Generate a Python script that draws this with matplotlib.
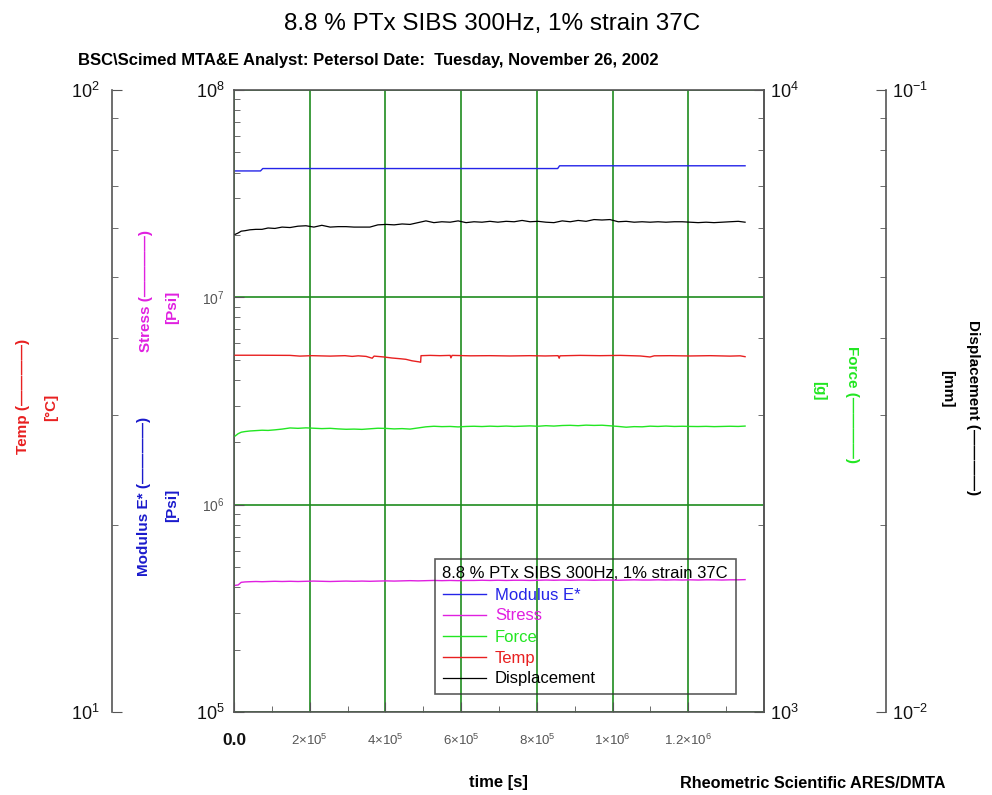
import matplotlib
matplotlib.use('Agg')
import matplotlib.pyplot as plt
from matplotlib.ticker import MultipleLocator, NullFormatter

plt.rcParams['font.family'] = ['Liberation Sans', 'DejaVu Sans']
plt.rcParams['mathtext.fontset'] = 'custom'
plt.rcParams['mathtext.rm'] = 'Liberation Sans'
plt.rcParams['mathtext.it'] = 'Liberation Sans:italic'
plt.rcParams['mathtext.bf'] = 'Liberation Sans:bold'

# time samples, in units of 1e5 s
t_grid = [0.03, 0.11, 0.19, 0.29, 0.42, 0.58, 0.74, 0.90, 1.08, 1.27,
          1.48, 1.69, 1.90, 2.11, 2.32, 2.54, 2.75, 2.96, 3.17, 3.38,
          3.59, 3.80, 4.02, 4.23, 4.44, 4.65, 4.86, 5.07, 5.28, 5.49,
          5.71, 5.92, 6.13, 6.34, 6.55, 6.76, 6.97, 7.19, 7.40, 7.61,
          7.82, 8.03, 8.24, 8.45, 8.67, 8.88, 9.09, 9.30, 9.51, 9.72,
          9.93, 10.15, 10.36, 10.57, 10.78, 10.99, 11.20, 11.41, 11.63, 11.84,
          12.05, 12.26, 12.47, 12.68, 12.89, 13.10, 13.32, 13.50]

# displacement [mm]
displacement = [0.0586, 0.0589, 0.0593, 0.0594, 0.0596, 0.0597, 0.0597, 0.0600, 0.0599, 0.0602,
                0.0601, 0.0604, 0.0605, 0.0602, 0.0606, 0.0602, 0.0603, 0.0603, 0.0602, 0.0602,
                0.0602, 0.0607, 0.0608, 0.0607, 0.0609, 0.0608, 0.0612, 0.0616, 0.0612, 0.0614,
                0.0613, 0.0616, 0.0612, 0.0614, 0.0613, 0.0615, 0.0613, 0.0615, 0.0614, 0.0617,
                0.0614, 0.0615, 0.0613, 0.0612, 0.0616, 0.0614, 0.0617, 0.0615, 0.0619, 0.0618,
                0.0619, 0.0614, 0.0615, 0.0613, 0.0614, 0.0613, 0.0614, 0.0613, 0.0614, 0.0614,
                0.0613, 0.0612, 0.0613, 0.0612, 0.0613, 0.0614, 0.0615, 0.0613]

# force [g]
force = [2778, 2802, 2817, 2824, 2830, 2834, 2838, 2836, 2842, 2850,
         2862, 2858, 2863, 2859, 2855, 2858, 2852, 2848, 2850, 2847,
         2853, 2859, 2857, 2852, 2855, 2850, 2862, 2874, 2880, 2876,
         2878, 2873, 2878, 2880, 2877, 2881, 2878, 2882, 2878, 2881,
         2884, 2880, 2886, 2882, 2888, 2890, 2886, 2892, 2889, 2891,
         2885, 2878, 2870, 2876, 2874, 2881, 2878, 2882, 2878, 2880,
         2878, 2877, 2879, 2876, 2878, 2880, 2878, 2882]

# stress [1e5 Psi]
stress = [4.08, 4.10, 4.22, 4.24, 4.25, 4.26, 4.25, 4.26, 4.27, 4.26,
          4.27, 4.26, 4.27, 4.28, 4.27, 4.26, 4.27, 4.28, 4.27, 4.28,
          4.27, 4.28, 4.29, 4.28, 4.29, 4.30, 4.29, 4.30, 4.31, 4.30,
          4.31, 4.30, 4.31, 4.31, 4.32, 4.31, 4.32, 4.31, 4.32, 4.32,
          4.31, 4.32, 4.33, 4.32, 4.33, 4.32, 4.33, 4.33, 4.32, 4.33,
          4.33, 4.32, 4.33, 4.34, 4.33, 4.33, 4.34, 4.33, 4.34, 4.33,
          4.34, 4.33, 4.34, 4.34, 4.33, 4.34, 4.34, 4.35]

# temperature [C], own time samples (1e5 s)
t_temp = [0.03, 0.69, 1.48, 1.74, 2.06, 2.54, 2.93, 3.12, 3.28, 3.49,
          3.65, 3.70, 3.96, 4.17, 4.39, 4.54, 4.70, 4.89, 4.93, 4.94,
          5.18, 5.44, 5.71, 5.73, 5.76, 6.24, 6.76, 7.29, 7.82, 8.22,
          8.56, 8.59, 8.61, 9.14, 9.67, 10.20, 10.73, 10.99, 11.10, 11.52,
          12.05, 12.58, 13.10, 13.37, 13.50]
temp = [37.46, 37.46, 37.44, 37.34, 37.40, 37.34, 37.40, 37.30, 37.38, 37.30,
        37.05, 37.34, 37.22, 37.08, 36.98, 36.90, 36.70, 36.55, 36.50, 37.40,
        37.44, 37.40, 37.44, 37.10, 37.44, 37.38, 37.40, 37.36, 37.40, 37.36,
        37.40, 37.05, 37.38, 37.44, 37.40, 37.44, 37.36, 37.22, 37.38, 37.40,
        37.36, 37.40, 37.34, 37.38, 37.26]

# modulus E* [Psi]
t_mod = [0.03, 0.70, 0.76, 8.55, 8.60, 13.50]
modulus = [4.07e7, 4.07e7, 4.18e7, 4.18e7, 4.31e7, 4.31e7]

x_ticks = [0, 2e5, 4e5, 6e5, 8e5, 1e6, 1.2e6]
x_labels = ['0.0', '2×10$^{5}$', '4×10$^{5}$', '6×10$^{5}$', '8×10$^{5}$',
            '1×10$^{6}$', '1.2×10$^{6}$']

title = '8.8 % PTx SIBS 300Hz, 1% strain 37C'
spine_c = '#555555'
grid_c = '#1f8c1f'
c_mod, c_str, c_frc, c_tmp, c_dsp = '#2424e8', '#e020e0', '#22e622', '#e82020', 'black'

W, H = 992, 795
fig = plt.figure(figsize=(W / 100, H / 100), dpi=100)


def fx(px):
    return px / W


def fy(py):
    return 1 - py / H


L, R, T, B = 234, 764, 90, 712
ax = fig.add_axes([fx(L), fy(B), fx(R) - fx(L), fy(T) - fy(B)])

sec = lambda v: [a * 1e5 for a in v]

# main axis: modulus & stress
ax.set_yscale('log')
ax.set_ylim(1e5, 1e8)
ax.set_xlim(0, 1.4e6)
ax.set_axisbelow(True)
l_mod, = ax.plot(sec(t_mod), modulus, color=c_mod, lw=1.0, label='Modulus E*')
l_str, = ax.plot(sec(t_grid), [s * 1e5 for s in stress], color=c_str, lw=1.0, label='Stress')
ax.grid(True, which='major', color=grid_c, lw=1.2)
ax.set_xticks(x_ticks)
ax.set_xticklabels(x_labels)
ax.xaxis.set_minor_locator(MultipleLocator(1e5))
ax.set_yticks([1e5, 1e6, 1e7, 1e8])
ax.set_yticklabels(['10$^{5}$', '10$^{6}$', '10$^{7}$', '10$^{8}$'])
ax.yaxis.set_minor_formatter(NullFormatter())
ax.tick_params(axis='both', which='both', direction='in', colors=spine_c, top=False, right=False)
ax.tick_params(axis='both', which='major', length=7)
ax.tick_params(axis='both', which='minor', length=4)
ax.tick_params(axis='x', which='major', pad=15)
ax.tick_params(axis='y', which='major', pad=7)
for sp in ax.spines.values():
    sp.set_color(spine_c)
    sp.set_linewidth(1.2)
for i, lab in enumerate(ax.get_xticklabels()):
    if i == 0:
        lab.set_fontsize(12.5)
        lab.set_fontweight('bold')
        lab.set_color('#111111')
    else:
        lab.set_fontsize(9.5)
        lab.set_color('#555555')
for i, lab in enumerate(ax.get_yticklabels()):
    if i in (0, 3):
        lab.set_fontsize(13)
        lab.set_color('#111111')
    else:
        lab.set_fontsize(10)
        lab.set_color('#555555')

# temperature axis (outer left)
ax_t = ax.twinx()
ax_t.set_yscale('log')
ax_t.set_ylim(10, 100)
l_tmp, = ax_t.plot(sec(t_temp), temp, color=c_tmp, lw=1.0, label='Temp')
ax_t.yaxis.set_ticks_position('left')
ax_t.spines['left'].set_position(('axes', (112 - L) / (R - L)))
for k in ('right', 'top', 'bottom'):
    ax_t.spines[k].set_visible(False)
ax_t.spines['left'].set_color(spine_c)
ax_t.spines['left'].set_linewidth(1.2)
ax_t.set_yticks([10, 100])
ax_t.set_yticklabels(['10$^{1}$', '10$^{2}$'])
ax_t.yaxis.set_minor_formatter(NullFormatter())

# force axis (inner right)
ax_f = ax.twinx()
ax_f.set_yscale('log')
ax_f.set_ylim(1e3, 1e4)
l_frc, = ax_f.plot(sec(t_grid), force, color=c_frc, lw=1.0, label='Force')
for k in ('left', 'top', 'bottom'):
    ax_f.spines[k].set_visible(False)
ax_f.spines['right'].set_color(spine_c)
ax_f.spines['right'].set_linewidth(1.2)
ax_f.set_yticks([1e3, 1e4])
ax_f.set_yticklabels(['10$^{3}$', '10$^{4}$'])
ax_f.yaxis.set_minor_formatter(NullFormatter())

# displacement axis (outer right)
ax_d = ax.twinx()
ax_d.set_yscale('log')
ax_d.set_ylim(1e-2, 1e-1)
l_dsp, = ax_d.plot(sec(t_grid), displacement, color=c_dsp, lw=0.9, label='Displacement')
ax_d.spines['right'].set_position(('axes', (886 - L) / (R - L)))
for k in ('left', 'top', 'bottom'):
    ax_d.spines[k].set_visible(False)
ax_d.spines['right'].set_color(spine_c)
ax_d.spines['right'].set_linewidth(1.2)
ax_d.set_yticks([1e-2, 1e-1])
ax_d.set_yticklabels(['10$^{-2}$', '10$^{-1}$'])
ax_d.yaxis.set_minor_formatter(NullFormatter())

for a, pad in ((ax_t, 9), (ax_f, 4), (ax_d, 4)):
    a.set_xlim(0, 1.4e6)
    a.tick_params(axis='y', which='both', direction='in', colors=spine_c)
    a.tick_params(axis='y', which='major', length=7, pad=pad, labelsize=13, labelcolor='#111111')
    a.tick_params(axis='y', which='minor', length=4)

# axis titles
lab_kw = dict(fontweight='bold', fontsize=11, ha='center', va='center')
dash = '\u2014' * 4
fig.text(fx(23), fy(396), 'Temp (' + dash + ')', color=c_tmp, rotation=90, **lab_kw)
fig.text(fx(51), fy(407), '[\u00b0C]', color=c_tmp, rotation=90, **lab_kw)
fig.text(fx(146), fy(291), 'Stress (' + dash + ')', color=c_str, rotation=90, **lab_kw)
fig.text(fx(172), fy(307), '[Psi]', color=c_str, rotation=90, **lab_kw)
fig.text(fx(144), fy(496), 'Modulus E* (' + dash + ')', color='#1a1acc', rotation=90, **lab_kw)
fig.text(fx(172), fy(505), '[Psi]', color='#1a1acc', rotation=90, **lab_kw)
fig.text(fx(852), fy(404), 'Force (' + dash + ')', color=c_frc, rotation=270, **lab_kw)
fig.text(fx(819), fy(391), '[g]', color=c_frc, rotation=270, **lab_kw)
fig.text(fx(973), fy(408), 'Displacement (' + dash + ')', color='black', rotation=270, **lab_kw)
fig.text(fx(947), fy(389), '[mm]', color='black', rotation=270, **lab_kw)

# header / footer texts
fig.text(fx(492), fy(24), title, fontsize=17.5, ha='center', va='center')
fig.text(fx(78), fy(60), 'BSC\\Scimed MTA&E Analyst: Petersol Date:  Tuesday, November 26, 2002',
         fontsize=12, fontweight='bold', ha='left', va='center')
fig.text(fx(498), fy(783), 'time [s]', fontsize=12, fontweight='bold', ha='center', va='center')
fig.text(fx(680), fy(783), 'Rheometric Scientific ARES/DMTA', fontsize=11.7,
         fontweight='bold', ha='left', va='center')

# legend
leg = ax_d.legend(handles=[l_mod, l_str, l_frc, l_tmp, l_dsp], title=title,
                  loc='upper left', bbox_to_anchor=(fx(435), fy(559)),
                  bbox_transform=fig.transFigure, fontsize=12, title_fontsize=12,
                  labelcolor='linecolor', alignment='left', fancybox=False,
                  edgecolor='#333333', handlelength=2.6,
                  handletextpad=0.55, labelspacing=0.36, borderpad=0.45,
                  borderaxespad=0)
leg.get_frame().set_facecolor('none')
leg.get_frame().set_linewidth(1.2)

fig.savefig('out.png', dpi=100)
